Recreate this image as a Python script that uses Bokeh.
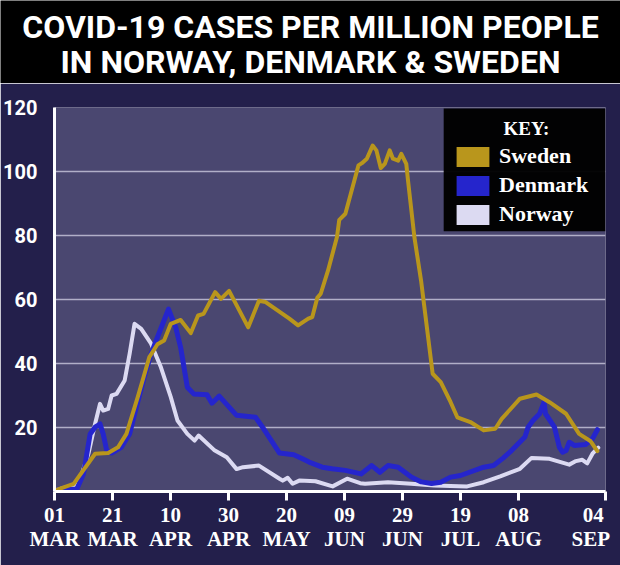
from bokeh.plotting import figure
from bokeh.models import (Range1d, FixedTicker, Legend, LegendItem, BoxAnnotation,
                          Label, ColumnDataSource)
from bokeh.layouts import column
from bokeh.embed import file_html
from bokeh.resources import INLINE
from bokeh.core.properties import value

# ---------------- data ----------------
title_lines = ["COVID-19 CASES PER MILLION PEOPLE", "IN NORWAY, DENMARK & SWEDEN"]
tick_days = [0, 20, 40, 60, 80, 100, 120, 140, 160, 190]
tick_labels = ["01\nMAR", "21\nMAR", "10\nAPR", "30\nAPR", "20\nMAY",
               "09\nJUN", "29\nJUN", "19\nJUL", "08\nAUG", "04\nSEP"]
y_ticks = [20, 40, 60, 80, 100, 120]
series_names = ["Sweden", "Denmark", "Norway"]

# days since 1 March
sweden_day = [0.7, 6.6, 14, 18.5, 21.9, 24.8, 28.7, 32.7, 35.5, 37.8, 40.1, 43.5, 47, 49.5,
              51.4, 55.4, 57.4, 60.2, 66.8, 70.5, 72.8, 81, 84, 87.5, 88.9, 90.6, 91.8, 94.3,
              97.4, 98.2, 100.3, 104.8, 106, 107.7, 109.7, 111, 112.5, 113.9, 115.6, 116.7,
              118.5, 119.6, 121.3, 121.9, 124.1, 126.4, 130.4, 133.2, 136.6, 138.9, 143.4,
              148, 152, 154.2, 160.5, 166.2, 170.7, 176.4, 180.9, 184.9, 187.2]
sweden_val = [0.5, 2.4, 11.8, 12, 13.8, 18, 29.5, 42, 46, 47.2, 52.4, 53.6, 49.5, 55,
              55.5, 62.3, 60.2, 62.7, 51.3, 59.6, 59.2, 54, 51.9, 54, 54.5, 60.5, 61.8, 69,
              79.5, 84.9, 86.8, 101.9, 102.6, 104, 108.1, 106.6, 101.1, 102.4, 106.6, 104,
              103.4, 105.5, 102.4, 97.2, 79.5, 65.9, 36.8, 34.2, 27.9, 23.2, 21.7,
              19.1, 19.6, 22.7, 29, 30.3, 27.9, 24.3, 18, 15.7, 12.6]

denmark_day = [0.7, 7.7, 10, 12.3, 14, 15.7, 16.8, 18, 19.7, 23, 25.9, 28.7, 31, 33.3, 35.5,
               39.3, 41.8, 43.5, 45.8, 48, 52.6, 54.3, 56.8, 62.8, 69.3, 71.5, 77.6, 82.5,
               85.5, 87.8, 92.3, 95.7, 100.3, 105.7, 109.4, 112.2, 115, 118.5, 123, 126.5,
               130, 133.2, 136.6, 140, 148, 151.4, 154.8, 157.6, 162.2, 163.3, 165, 167.3,
               168.8, 169.3, 172.4, 174.1, 175.2, 176.4, 177.5, 179.2, 183.2, 185.5, 187.2]
denmark_val = [0.5, 0.8, 5.5, 18, 20.1, 21.1, 18, 12.8, 12, 13.8, 18, 28, 36, 43, 48.2,
               57, 51.3, 45, 32.6, 30.5, 30.2, 27.6, 29.8, 23.8, 23.2, 20.4, 12, 11.5,
               10.2, 9.2, 7.6, 7.1, 6.6, 5.5, 8.1, 6, 8.1, 7.6, 4.5, 3,
               2.5, 2.9, 4.5, 5, 7.6, 8.1, 10.5, 12.8, 17, 20.1, 22.2, 24.3,
               27.9, 24.3, 20.1, 13.8, 12.3, 12.8, 15.4, 14.4, 14.7, 16.5, 19.3]

norway_day = [0.7, 8.3, 11.7, 14, 15.7, 16.8, 18.5, 19.7, 21.4, 24.2, 25.9, 27.6, 29.9,
              33.3, 36.7, 40.1, 42.4, 45.8, 48.3, 49.7, 55, 59.4, 62.8, 65, 70.5, 77.6,
              78.7, 80.4, 82.1, 84.4, 90, 95.9, 100.9, 105.4, 107.1, 115, 123, 130.9,
              142.3, 148, 153.7, 160.5, 164.5, 170.7, 177.5, 179.8, 182, 183.7, 185.5, 187.5]
norway_val = [0.5, 2.4, 11.8, 21.2, 27.4, 25.3, 25.8, 30, 30.5, 34.7, 43, 52.4, 50.8,
              46.2, 38.8, 29.5, 22.2, 18, 15.9, 17.5, 13, 10.7, 7, 7.6, 8.1, 4,
              3.4, 4.3, 2.4, 3.4, 3.2, 1.6, 4, 2.6, 2.4, 2.9, 2.4, 1.9,
              1.6, 2.9, 4.7, 7.1, 10.5, 10.2, 8.4, 9.5, 9.9, 8.8, 11.8, 13.7]

# ---------------- styles ----------------
SWE = "#b9961c"
DEN = "#2525cc"
NOR = "#dcdaf2"
OUTER = "#231f4b"
INNER = "#4a4770"
SERIF = "Liberation Serif"
TITLE_FONT = "Roboto"
NBSP = "\u00a0"

# ---------------- title band ----------------
t = figure(width=620, height=83, x_range=Range1d(0, 620), y_range=Range1d(0, 83),
           title=None, x_axis_type=None, y_axis_type=None, output_backend="svg",
           toolbar_location=None, min_border=0, outline_line_color=None,
           background_fill_color="black", border_fill_color="black")
t.grid.visible = False
t.text(x=[310, 310], y=[57, 22], text=title_lines, text_font=value(TITLE_FONT),
       text_font_style="bold", text_font_size="32px", text_color="white",
       text_align="center", text_baseline="alphabetic")

# ---------------- main chart ----------------
p = figure(width=620, height=482, x_range=Range1d(0, 190), y_range=Range1d(0, 120),
           title=None, output_backend="svg", toolbar_location=None,
           min_border_left=50, min_border_right=15, min_border_top=24, min_border_bottom=74,
           background_fill_color=INNER, border_fill_color=OUTER, outline_line_color=None)

# the title band and the chart are stacked; do not let the layout align their frames
for fig in (t, p):
    if "frame_align" in fig.properties():
        fig.frame_align = False

p.xgrid.visible = False
p.ygrid.ticker = FixedTicker(ticks=y_ticks)
p.ygrid.grid_line_color = "#d4d2e6"
p.ygrid.grid_line_alpha = 0.75
p.ygrid.grid_line_width = 1.5

p.yaxis.ticker = FixedTicker(ticks=y_ticks)
p.yaxis.axis_line_color = "white"
p.yaxis.axis_line_width = 3
p.yaxis.major_tick_line_color = None
p.yaxis.minor_tick_line_color = None
p.yaxis.major_label_text_color = "white"
p.yaxis.major_label_text_font = TITLE_FONT
p.yaxis.major_label_text_font_style = "bold"
p.yaxis.major_label_text_font_size = "20px"
p.yaxis.major_label_standoff = 11

# the last label (04 SEP) sits left of its tick in the original: pad it on the right
overrides = {d: lab for d, lab in zip(tick_days, tick_labels)}
top_line, bottom_line = tick_labels[-1].split("\n")
overrides[tick_days[-1]] = top_line + NBSP + "\n" + bottom_line + NBSP * 2
p.xaxis.ticker = FixedTicker(ticks=tick_days)
p.xaxis.major_label_overrides = overrides
p.xaxis.axis_line_color = "white"
p.xaxis.axis_line_width = 3
p.xaxis.major_tick_line_color = "white"
p.xaxis.major_tick_line_width = 3
p.xaxis.major_tick_out = 9
p.xaxis.major_tick_in = 0
p.xaxis.minor_tick_line_color = None
p.xaxis.major_label_text_color = "white"
p.xaxis.major_label_text_font = SERIF
p.xaxis.major_label_text_font_style = "bold"
p.xaxis.major_label_text_font_size = "21px"
p.xaxis.major_label_text_line_height = 1.0
p.xaxis.major_label_standoff = 2

r_no = p.line(norway_day, norway_val, line_color=NOR, line_width=4,
              line_join="round", line_cap="round")
r_dk = p.line(denmark_day, denmark_val, line_color=DEN, line_width=5,
              line_join="round", line_cap="round")
r_se = p.line(sweden_day, sweden_val, line_color=SWE, line_width=4,
              line_join="round", line_cap="round")

# key swatches: area renderers with no drawable data, used only for the key's filled squares
nan = float("nan")
sw = []
for col in [SWE, DEN, NOR]:
    src = ColumnDataSource(data=dict(l=[nan], r=[nan], t=[nan], b=[nan]))
    sw.append(p.quad(left="l", right="r", top="t", bottom="b", source=src,
                     fill_color=col, line_color=None))

key_box = BoxAnnotation(left=134.2, right=190, top=119.7, bottom=81.3,
                        fill_color="black", fill_alpha=0.97, line_color=None)
p.add_layout(key_box)
p.add_layout(Label(x=162.7, y=113.4, text="KEY:", text_font=SERIF, text_font_style="bold",
                   text_font_size="19px", text_color="white", text_align="center",
                   text_baseline="alphabetic"))

legend = Legend(items=[LegendItem(label=n, renderers=[r]) for n, r in zip(series_names, sw)],
                location=(398, 264), padding=0, margin=0, spacing=3,
                glyph_width=41, glyph_height=25, label_standoff=6, label_height=25,
                background_fill_alpha=0, border_line_color=None,
                label_text_color="white", label_text_font=SERIF,
                label_text_font_style="bold", label_text_font_size="22px")
p.add_layout(legend, "center")

page = column(t, p, spacing=0)
open("out.html", "w").write(file_html(page, INLINE))
